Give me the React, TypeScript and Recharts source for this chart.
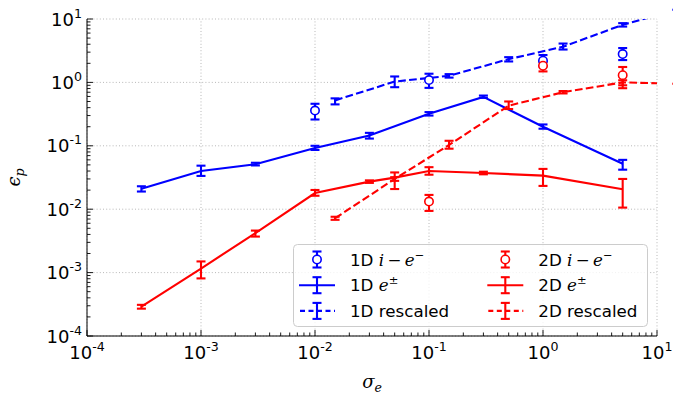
import React from 'react';
import { ComposedChart, Line, XAxis, YAxis, ErrorBar, ReferenceLine, Legend } from 'recharts';

// ---- data ----
const oneDIeX = [0.01, 0.1, 1, 5];
const oneDIeY = [0.36, 1.09, 2.2, 2.8];
const oneDIeLo = [0.26, 0.82, 1.8, 2.25];
const oneDIeHi = [0.46, 1.37, 2.7, 3.48];

const oneDEpX = [3e-4, 1e-3, 3e-3, 1e-2, 3e-2, 0.1, 0.3, 1, 5];
const oneDEpY = [0.021, 0.04, 0.051, 0.092, 0.145, 0.32, 0.59, 0.2, 0.052];
const oneDEpLo = [0.019, 0.0335, 0.049, 0.086, 0.13, 0.3, 0.57, 0.186, 0.042];
const oneDEpHi = [0.023, 0.0486, 0.054, 0.1, 0.16, 0.34, 0.62, 0.217, 0.06];

const oneDResX = [0.015, 0.05, 0.15, 0.5, 1.5, 5, 15];
const oneDResY = [0.52, 1.03, 1.27, 2.33, 3.65, 8.1, 14];
const oneDResLo = [0.45, 0.84, 1.19, 2.14, 3.3, 7.6, 14];
const oneDResHi = [0.56, 1.24, 1.35, 2.5, 4.1, 8.6, 14];

const twoDIeX = [0.1, 1, 5];
const twoDIeY = [0.0132, 1.83, 1.3];
const twoDIeLo = [0.0094, 1.49, 0.81];
const twoDIeHi = [0.0168, 2.14, 1.75];

const twoDEpX = [3e-4, 1e-3, 3e-3, 1e-2, 3e-2, 5e-2, 0.1, 0.3, 1, 5];
const twoDEpY = [2.9e-4, 1.16e-3, 4.2e-3, 0.018, 0.0272, 0.0315, 0.04, 0.0373, 0.0338, 0.0206];
const twoDEpLo = [2.7e-4, 8.1e-4, 3.7e-3, 0.0163, 0.026, 0.0208, 0.035, 0.0355, 0.0233, 0.0106];
const twoDEpHi = [3.1e-4, 1.5e-3, 4.6e-3, 0.0201, 0.0285, 0.038, 0.046, 0.039, 0.0432, 0.03];

const twoDResX = [0.015, 0.05, 0.15, 0.5, 1.5, 5, 15];
const twoDResY = [0.0072, 0.03, 0.103, 0.43, 0.7, 1.0, 0.95];
const twoDResLo = [0.0068, 0.028, 0.09, 0.38, 0.67, 0.9, 0.95];
const twoDResHi = [0.0076, 0.032, 0.12, 0.5, 0.73, 1.08, 0.95];

const majorTicks = [1e-4, 1e-3, 1e-2, 1e-1, 1, 10];
const majorLabels = ['-4', '-3', '-2', '-1', '0', '1'];
const minorMultipliers = [2, 3, 4, 5, 6, 7, 8, 9];

// ---- helpers ----
const build = (xs: number[], ys: number[], lo: number[], hi: number[]) =>
  xs.map((x, i) => ({ x, y: ys[i], e: [ys[i] - lo[i], hi[i] - ys[i]] }));

const allTicks: number[] = [];
majorTicks.forEach((m, i) => {
  allTicks.push(m);
  if (i < majorTicks.length - 1) minorMultipliers.forEach((k) => allTicks.push(k * m));
});

const majorIndex = (v: number) =>
  majorTicks.findIndex((m) => Math.abs(Math.log10(v) - Math.log10(m)) < 1e-6);

const BLUE = '#0000ff';
const RED = '#ff0000';
const FONT = '"DejaVu Sans", sans-serif';
const MATH = '"DejaVu Serif", serif';
const MAJ = 6;
const MIN = 3.5;
const TICK_FS = 18;

const BottomTick = (p: any) => {
  const { x, y, payload } = p;
  const idx = majorIndex(payload.value);
  const major = idx >= 0;
  return (
    <g>
      <line x1={x} x2={x} y1={y} y2={y - (major ? MAJ : MIN)} stroke="#000" strokeWidth={0.9} />
      {major && (
        <text x={x} y={y + 23} textAnchor="middle" fontSize={TICK_FS} fontFamily={FONT} fill="#000">
          10<tspan dy={-8} fontSize={12.6}>{majorLabels[idx]}</tspan>
        </text>
      )}
    </g>
  );
};

const TopTick = (p: any) => {
  const { x, y, payload } = p;
  const major = majorIndex(payload.value) >= 0;
  return <line x1={x} x2={x} y1={y} y2={y + (major ? MAJ : MIN)} stroke="#000" strokeWidth={0.9} />;
};

const LeftTick = (p: any) => {
  const { x, y, payload } = p;
  const idx = majorIndex(payload.value);
  const major = idx >= 0;
  return (
    <g>
      <line x1={x} x2={x + (major ? MAJ : MIN)} y1={y} y2={y} stroke="#000" strokeWidth={0.9} />
      {major && (
        <text x={x - 5} y={y + 6.5} textAnchor="end" fontSize={TICK_FS} fontFamily={FONT} fill="#000">
          10<tspan dy={-8} fontSize={12.6}>{majorLabels[idx]}</tspan>
        </text>
      )}
    </g>
  );
};

const RightTick = (p: any) => {
  const { x, y, payload } = p;
  const major = majorIndex(payload.value) >= 0;
  return <line x1={x} x2={x - (major ? MAJ : MIN)} y1={y} y2={y} stroke="#000" strokeWidth={0.9} />;
};

const LW = 2.1;
const DASH = '7.7 3.3';
const CAP = 4.5;

const LegendIcon = ({ cx, cy, color, kind }: { cx: number; cy: number; color: string; kind: string }) => (
  <g>
    {kind === 'solid' && <line x1={cx - 18} x2={cx + 18} y1={cy} y2={cy} stroke={color} strokeWidth={LW} />}
    {kind === 'dash' && (
      <line x1={cx - 18} x2={cx + 18} y1={cy} y2={cy} stroke={color} strokeWidth={LW} strokeDasharray="5 3.5" strokeDashoffset={-1} />
    )}
    <line x1={cx} x2={cx} y1={cy - 8} y2={cy + 8} stroke={color} strokeWidth={LW} />
    <line x1={cx - CAP} x2={cx + CAP} y1={cy - 8} y2={cy - 8} stroke={color} strokeWidth={LW} />
    <line x1={cx - CAP} x2={cx + CAP} y1={cy + 8} y2={cy + 8} stroke={color} strokeWidth={LW} />
    {kind === 'circle' && <circle cx={cx} cy={cy} r={4.2} fill="#fff" stroke={color} strokeWidth={1.6} />}
  </g>
);

const LegendText = ({ x, y, dim, kind }: { x: number; y: number; dim: string; kind: string }) => (
  <text x={x} y={y} fontSize={16.7} fontFamily={FONT} fill="#000">
    {dim}{' '}
    {kind === 'circle' && (
      <>
        <tspan fontFamily={MATH} fontStyle="italic">i</tspan>
        <tspan fontFamily={MATH}>{'\u2009\u2212\u2009'}</tspan>
        <tspan fontFamily={MATH} fontStyle="italic">e</tspan>
        <tspan fontFamily={MATH} fontSize={11.5} dy={-7}>{'\u2212'}</tspan>
      </>
    )}
    {kind === 'solid' && (
      <>
        <tspan fontFamily={MATH} fontStyle="italic">e</tspan>
        <tspan fontFamily={MATH} fontSize={11.5} dy={-7}>{'\u00b1'}</tspan>
      </>
    )}
    {kind === 'dash' && 'rescaled'}
  </text>
);

const legendRows = [
  { dim: '1D', kind: 'circle', color: BLUE, col: 0, row: 0 },
  { dim: '1D', kind: 'solid', color: BLUE, col: 0, row: 1 },
  { dim: '1D', kind: 'dash', color: BLUE, col: 0, row: 2 },
  { dim: '2D', kind: 'circle', color: RED, col: 1, row: 0 },
  { dim: '2D', kind: 'solid', color: RED, col: 1, row: 1 },
  { dim: '2D', kind: 'dash', color: RED, col: 1, row: 2 },
];

const LegendBox = () => (
  <svg width={356} height={84} style={{ display: 'block' }}>
    <rect x={0.5} y={0.5} width={354} height={82} rx={4} ry={4} fill="#fff" fillOpacity={0.8} stroke="#cccccc" strokeWidth={1} />
    {legendRows.map((r, i) => {
      const cy = 15.5 + r.row * 25.7;
      const cx = r.col === 0 ? 24 : 212.3;
      const tx = r.col === 0 ? 57 : 245.3;
      return (
        <g key={i}>
          <LegendIcon cx={cx} cy={cy} color={r.color} kind={r.kind} />
          <LegendText x={tx} y={cy + 6} dim={r.dim} kind={r.kind} />
        </g>
      );
    })}
  </svg>
);

const XLabel = (p: any) => {
  const vb = p.viewBox || {};
  const cx = vb.x + vb.width / 2;
  return (
    <text x={cx} y={vb.y + 52} textAnchor="middle" fontFamily={MATH} fontStyle="italic" fontSize={18} fill="#000">
      σ<tspan fontSize={12.6} dy={4}>e</tspan>
    </text>
  );
};

const YLabel = (p: any) => {
  const vb = p.viewBox || {};
  const cy = vb.y + vb.height / 2;
  return (
    <text x={20} y={cy} transform={`rotate(-90 20 ${cy})`} textAnchor="middle" fontFamily={MATH} fontStyle="italic" fontSize={18} fill="#000">
      ϵ<tspan fontSize={12.6} dy={4}>p</tspan>
    </text>
  );
};

export default function App() {
  const d1ie = build(oneDIeX, oneDIeY, oneDIeLo, oneDIeHi);
  const d1ep = build(oneDEpX, oneDEpY, oneDEpLo, oneDEpHi);
  const d1rs = build(oneDResX, oneDResY, oneDResLo, oneDResHi);
  const d2ie = build(twoDIeX, twoDIeY, twoDIeLo, twoDIeHi);
  const d2ep = build(twoDEpX, twoDEpY, twoDEpLo, twoDEpHi);
  const d2rs = build(twoDResX, twoDResY, twoDResLo, twoDResHi);

  const errProps = (color: string) => ({
    dataKey: 'e',
    direction: 'y' as const,
    width: CAP,
    stroke: color,
    strokeWidth: LW,
    isAnimationActive: false,
  });

  return (
    <div style={{ position: 'absolute', left: 0, top: 0, width: 673, height: 401, background: '#fff' }}>
      <ComposedChart width={673} height={401} margin={{ top: 19, right: 16, bottom: 0, left: 0 }}>
        <XAxis
          dataKey="x"
          type="number"
          scale="log"
          domain={[1e-4, 10]}
          allowDataOverflow
          ticks={allTicks}
          interval={0}
          tickSize={0}
          tickMargin={0}
          tick={<BottomTick />}
          tickLine={false}
          axisLine={{ stroke: '#000', strokeWidth: 1 }}
          height={65}
          label={<XLabel />}
        />
        <XAxis
          xAxisId="top"
          orientation="top"
          dataKey="x"
          type="number"
          scale="log"
          domain={[1e-4, 10]}
          allowDataOverflow
          ticks={allTicks}
          interval={0}
          tickSize={0}
          tickMargin={0}
          tick={<TopTick />}
          tickLine={false}
          axisLine={{ stroke: '#000', strokeWidth: 1 }}
          height={0}
        />
        <YAxis
          type="number"
          scale="log"
          domain={[1e-4, 10]}
          allowDataOverflow
          ticks={allTicks}
          interval={0}
          tickSize={0}
          tickMargin={0}
          tick={<LeftTick />}
          tickLine={false}
          axisLine={{ stroke: '#000', strokeWidth: 1 }}
          width={87}
          label={<YLabel />}
        />
        <YAxis
          yAxisId="right"
          orientation="right"
          type="number"
          scale="log"
          domain={[1e-4, 10]}
          allowDataOverflow
          ticks={allTicks}
          interval={0}
          tickSize={0}
          tickMargin={0}
          tick={<RightTick />}
          tickLine={false}
          axisLine={{ stroke: '#000', strokeWidth: 1 }}
          width={0}
        />
        {majorTicks.map((v) => (
          <ReferenceLine key={'gx' + v} x={v} stroke="#b0b0b0" strokeWidth={0.9} strokeDasharray="1 2.2" />
        ))}
        {majorTicks.map((v) => (
          <ReferenceLine key={'gy' + v} y={v} stroke="#b0b0b0" strokeWidth={0.9} strokeDasharray="1 2.2" />
        ))}

        <Line data={d1ie} dataKey="y" stroke="none" isAnimationActive={false} activeDot={false}
          dot={{ r: 4.2, fill: '#fff', stroke: BLUE, strokeWidth: 1.6 }}>
          <ErrorBar {...errProps(BLUE)} />
        </Line>
        <Line data={d1ep} dataKey="y" stroke={BLUE} strokeWidth={LW} dot={false} activeDot={false} isAnimationActive={false}>
          <ErrorBar {...errProps(BLUE)} />
        </Line>
        <Line data={d1rs} dataKey="y" stroke={BLUE} strokeWidth={LW} strokeDasharray={DASH} dot={false} activeDot={false} isAnimationActive={false}>
          <ErrorBar {...errProps(BLUE)} />
        </Line>
        <Line data={d2ie} dataKey="y" stroke="none" isAnimationActive={false} activeDot={false}
          dot={{ r: 4.2, fill: '#fff', stroke: RED, strokeWidth: 1.6 }}>
          <ErrorBar {...errProps(RED)} />
        </Line>
        <Line data={d2ep} dataKey="y" stroke={RED} strokeWidth={LW} dot={false} activeDot={false} isAnimationActive={false}>
          <ErrorBar {...errProps(RED)} />
        </Line>
        <Line data={d2rs} dataKey="y" stroke={RED} strokeWidth={LW} strokeDasharray={DASH} dot={false} activeDot={false} isAnimationActive={false}>
          <ErrorBar {...errProps(RED)} />
        </Line>

        <Legend
          layout="horizontal"
          verticalAlign="middle"
          align="center"
          content={() => <LegendBox />}
          wrapperStyle={{ position: 'absolute', left: 293, top: 244, width: 356, height: 84, right: 'auto', bottom: 'auto' }}
        />
      </ComposedChart>
    </div>
  );
}
